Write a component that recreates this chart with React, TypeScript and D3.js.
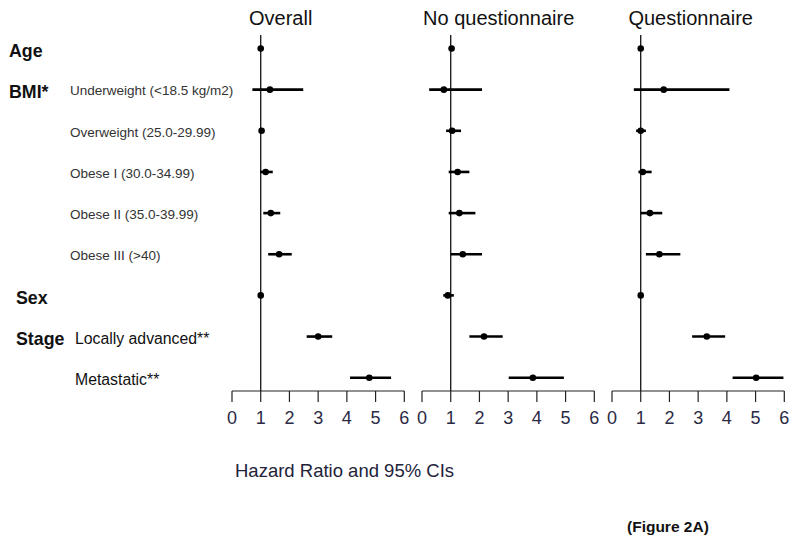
import React, { useRef, useEffect } from "react";
import * as d3 from "d3";

// row labels
const groupLabels = [
  { row: 0, text: "Age", x: 9 },
  { row: 1, text: "BMI*", x: 9 },
  { row: 6, text: "Sex", x: 16 },
  { row: 7, text: "Stage", x: 16 },
];
const subLabels = [
  "",
  "Underweight (<18.5 kg/m2)",
  "Overweight (25.0-29.99)",
  "Obese I  (30.0-34.99)",
  "Obese II (35.0-39.99)",
  "Obese III (>40)",
  "",
  "Locally advanced**",
  "Metastatic**",
];

const panelTitles = ["Overall", "No questionnaire", "Questionnaire"];
const tickValues = [0, 1, 2, 3, 4, 5, 6];

// hazard ratios [estimate, lower, upper] per row
const overall = [
  [1.0, 0.97, 1.03],
  [1.32, 0.71, 2.48],
  [1.03, 0.95, 1.12],
  [1.17, 0.98, 1.42],
  [1.35, 1.09, 1.68],
  [1.64, 1.26, 2.08],
  [1.0, 0.95, 1.05],
  [3.0, 2.6, 3.49],
  [4.78, 4.11, 5.54],
];
const noQuestionnaire = [
  [1.03, 1.0, 1.06],
  [0.76, 0.25, 2.09],
  [1.05, 0.84, 1.36],
  [1.24, 0.93, 1.65],
  [1.3, 0.93, 1.86],
  [1.42, 1.0, 2.09],
  [0.9, 0.74, 1.11],
  [2.16, 1.65, 2.81],
  [3.86, 3.02, 4.94],
];
const questionnaire = [
  [1.0, 0.97, 1.03],
  [1.8, 0.76, 4.09],
  [1.0, 0.84, 1.18],
  [1.07, 0.92, 1.38],
  [1.32, 1.0, 1.75],
  [1.65, 1.18, 2.38],
  [1.0, 0.96, 1.04],
  [3.3, 2.79, 3.94],
  [5.02, 4.2, 5.97],
];

const W = 800;
const H = 543;

const App: React.FC = () => {
  const svgRef = useRef<SVGSVGElement>(null);

  useEffect(() => {
    if (!svgRef.current) return;
    const svg = d3.select(svgRef.current);
    svg.selectAll("*").remove();

    const font = "Arial, 'Liberation Sans', sans-serif";
    const y = d3.scaleLinear().domain([0, 8]).range([48.5, 377.7]);
    const axisY = 391;

    // left labels
    groupLabels.forEach((g) => {
      svg
        .append("text")
        .attr("x", g.x)
        .attr("y", y(g.row) + 2)
        .attr("dy", "0.35em")
        .attr("font-family", font)
        .attr("font-weight", "bold")
        .attr("font-size", 17.8)
        .attr("fill", "#111")
        .text(g.text);
    });
    subLabels.forEach((t, i) => {
      if (!t) return;
      const big = i >= 7;
      svg
        .append("text")
        .attr("x", big ? 75 : 70)
        .attr("y", y(i) + (big ? 2 : 1))
        .attr("dy", "0.35em")
        .attr("font-family", font)
        .attr("font-size", big ? 15.8 : 13.5)
        .attr("fill", big ? "#111" : "#333")
        .text(t);
    });

    const panels = [
      { title: panelTitles[0], data: overall, x0: 232, dx: 20 },
      { title: panelTitles[1], data: noQuestionnaire, x0: 422, dx: 48 },
      { title: panelTitles[2], data: questionnaire, x0: 612, dx: 50 },
    ];

    panels.forEach((p) => {
      const x = d3.scaleLinear().domain([0, 6]).range([p.x0, p.x0 + 172.3]);
      const g = svg.append("g");

      g.append("text")
        .attr("x", x(1) + p.dx)
        .attr("y", 25)
        .attr("text-anchor", "middle")
        .attr("font-family", font)
        .attr("font-size", 20)
        .attr("fill", "#111")
        .text(p.title);

      // reference line at HR = 1
      g.append("line")
        .attr("x1", x(1))
        .attr("x2", x(1))
        .attr("y1", 35)
        .attr("y2", axisY)
        .attr("stroke", "#111")
        .attr("stroke-width", 1.3);

      // axis
      const axis = g.append("g").attr("transform", `translate(0,${axisY})`);
      axis
        .append("line")
        .attr("x1", x(0))
        .attr("x2", x(6))
        .attr("stroke", "#222")
        .attr("stroke-width", 1.2);
      axis
        .selectAll("line.tick")
        .data(tickValues)
        .enter()
        .append("line")
        .attr("class", "tick")
        .attr("x1", (d) => x(d))
        .attr("x2", (d) => x(d))
        .attr("y1", 0)
        .attr("y2", 11)
        .attr("stroke", "#222")
        .attr("stroke-width", 1.2);
      axis
        .selectAll("text")
        .data(tickValues)
        .enter()
        .append("text")
        .attr("x", (d) => x(d))
        .attr("y", 33)
        .attr("text-anchor", "middle")
        .attr("font-family", font)
        .attr("font-size", 18)
        .attr("fill", "#2b2b45")
        .text((d) => d);

      // CIs and estimates
      g.selectAll("line.ci")
        .data(p.data)
        .enter()
        .append("line")
        .attr("class", "ci")
        .attr("x1", (d) => x(d[1]))
        .attr("x2", (d) => x(d[2]))
        .attr("y1", (_, i) => y(i))
        .attr("y2", (_, i) => y(i))
        .attr("stroke", "#000")
        .attr("stroke-width", 2.6);
      g.selectAll("path.pt")
        .data(p.data)
        .enter()
        .append("path")
        .attr("class", "pt")
        .attr("d", d3.symbol().type(d3.symbolCircle).size(34)())
        .attr("transform", (d, i) => `translate(${x(d[0])},${y(i)})`)
        .attr("fill", "#000");
    });

    svg
      .append("text")
      .attr("x", 235)
      .attr("y", 471)
      .attr("dy", "0.35em")
      .attr("font-family", font)
      .attr("font-size", 18.5)
      .attr("fill", "#22223a")
      .text("Hazard Ratio and 95% CIs");

    svg
      .append("text")
      .attr("x", 627)
      .attr("y", 527)
      .attr("dy", "0.35em")
      .attr("font-family", font)
      .attr("font-weight", "bold")
      .attr("font-size", 15.5)
      .attr("fill", "#111")
      .text("(Figure 2A)");
  }, []);

  return (
    <svg
      ref={svgRef}
      width={W}
      height={H}
      style={{ position: "absolute", left: 0, top: 0, background: "#fff" }}
    ></svg>
  );
};

export default App;
